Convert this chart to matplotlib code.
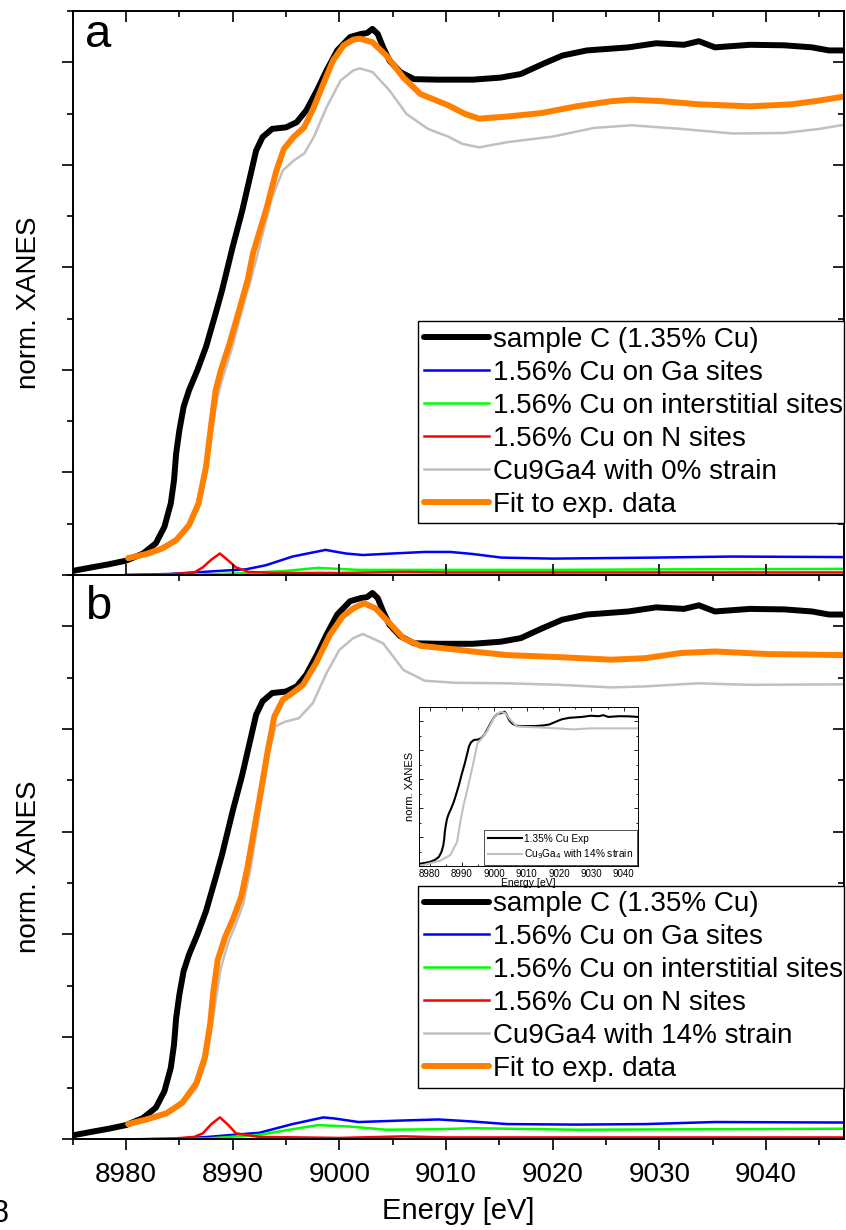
#! /usr/bin/env python3

# import libraries
import numpy as np
import matplotlib
matplotlib.use("Agg")
import matplotlib.pyplot as plt
from matplotlib.ticker import MultipleLocator


# set matplotlib parameters
plt.rcParams["font.family"] = ["Liberation Sans", "DejaVu Sans"]
plt.rcParams["axes.linewidth"] = 1.4
plt.rcParams["xtick.major.width"] = 1.2
plt.rcParams["ytick.major.width"] = 1.2
plt.rcParams["xtick.minor.width"] = 1.2
plt.rcParams["ytick.minor.width"] = 1.2


# experiment: sample C (1.35% Cu), same in both panels
e_exp = [8975.0, 8976.8, 8978.4, 8980.0, 8981.6, 8982.8, 8983.6, 8984.2, 8984.5, 8984.7,
         8985.0, 8985.4, 8985.9, 8986.7, 8987.5, 8988.4, 8989.0, 8990.0, 8990.9, 8991.7,
         8992.2, 8992.8, 8993.7, 8995.0, 8996.0, 8996.9, 8997.9, 8998.8, 8999.8, 9001.0,
         9002.0, 9002.6, 9003.1, 9003.6, 9004.1, 9004.7, 9005.7, 9007.0, 9009.3, 9012.5,
         9015.1, 9017.0, 9019.0, 9020.9, 9023.2, 9027.1, 9029.7, 9032.3, 9033.7, 9035.2,
         9038.5, 9041.7, 9044.3, 9045.9, 9047.3]
y_exp = [0.008, 0.015, 0.021, 0.028, 0.042, 0.062, 0.094, 0.14, 0.185, 0.237,
         0.282, 0.328, 0.36, 0.40, 0.445, 0.51, 0.555, 0.64, 0.711, 0.783,
         0.828, 0.854, 0.870, 0.873, 0.883, 0.906, 0.945, 0.984, 1.023, 1.049,
         1.055, 1.057, 1.065, 1.055, 1.029, 1.003, 0.981, 0.967, 0.966, 0.966,
         0.970, 0.977, 0.996, 1.013, 1.023, 1.029, 1.037, 1.034, 1.041, 1.029,
         1.034, 1.033, 1.029, 1.023, 1.023]

# panel a: fit and components (0% strain)
e_fit_a = [8980.2, 8981.9, 8983.4, 8984.7, 8985.9, 8986.8, 8987.5, 8988.0, 8988.4, 8988.9,
           8989.7, 8990.6, 8991.4, 8991.9, 8993.2, 8994.1, 8994.8, 8995.7, 8996.7, 8997.6,
           8998.5, 8999.4, 9000.4, 9001.3, 9001.9, 9003.1, 9004.4, 9006.0, 9007.6, 9010.2,
           9011.8, 9013.1, 9015.7, 9019.0, 9022.2, 9025.5, 9027.4, 9030.3, 9033.6, 9038.5,
           9042.4, 9044.9, 9047.3]
y_fit_a = [0.033, 0.041, 0.052, 0.068, 0.097, 0.14, 0.211, 0.296, 0.36, 0.40,
           0.451, 0.516, 0.575, 0.627, 0.717, 0.789, 0.831, 0.854, 0.873, 0.912,
           0.958, 1.003, 1.033, 1.044, 1.046, 1.039, 1.013, 0.97, 0.938, 0.916,
           0.899, 0.89, 0.894, 0.901, 0.914, 0.924, 0.927, 0.924, 0.918, 0.914,
           0.918, 0.925, 0.933]

e_cga_a = [8980.2, 8981.9, 8983.4, 8984.7, 8985.9, 8986.8, 8987.5, 8988.0, 8988.5, 8989.0,
           8989.9, 8991.2, 8991.7, 8992.5, 8993.7, 8994.7, 8995.7, 8996.7, 8997.6, 8998.8,
           9000.1, 9001.3, 9001.9, 9003.1, 9004.7, 9006.3, 9008.3, 9010.2, 9011.5, 9013.1,
           9015.7, 9020.0, 9023.9, 9027.4, 9032.0, 9036.9, 9041.7, 9045.0, 9047.3]
y_cga_a = [0.030, 0.038, 0.049, 0.064, 0.092, 0.13, 0.195, 0.27, 0.34, 0.38,
           0.44, 0.542, 0.575, 0.64, 0.737, 0.789, 0.808, 0.822, 0.854, 0.912,
           0.964, 0.984, 0.988, 0.981, 0.945, 0.899, 0.870, 0.855, 0.841, 0.834,
           0.844, 0.855, 0.872, 0.877, 0.870, 0.861, 0.862, 0.870, 0.878]

e_ga_a = [8980.0, 8984.0, 8987.2, 8988.7, 8991.2, 8993.1, 8995.6, 8998.7, 9000.6, 9002.2,
          9005.0, 9008.0, 9010.4, 9012.5, 9015.2, 9020.0, 9029.5, 9036.7, 9047.3]
y_ga_a = [0.0, 0.002, 0.006, 0.008, 0.011, 0.019, 0.036, 0.049, 0.042, 0.039,
          0.042, 0.045, 0.045, 0.041, 0.034, 0.032, 0.034, 0.036, 0.035]

e_int_a = [8980.0, 8987.0, 8990.3, 8995.0, 8998.0, 9001.8, 9010.0, 9020.0, 9030.0, 9047.3]
y_int_a = [0.0, 0.001, 0.003, 0.008, 0.014, 0.010, 0.010, 0.010, 0.011, 0.012]

e_n_a = [8980.0, 8984.0, 8986.4, 8987.2, 8988.0, 8988.8, 8989.6, 8990.3, 8991.5, 8994.0,
         9000.0, 9006.0, 9010.0, 9047.3]
y_n_a = [0.0, 0.001, 0.005, 0.015, 0.030, 0.042, 0.028, 0.015, 0.006, 0.004,
         0.004, 0.006, 0.005, 0.005]

# panel b: fit and components (14% strain)
e_fit_b = [8980.2, 8981.9, 8983.8, 8985.3, 8986.6, 8987.4, 8987.9, 8988.2, 8988.6, 8989.3,
           8990.0, 8990.8, 8991.4, 8992.5, 8993.3, 8993.9, 8994.7, 8995.6, 8996.6, 8997.8,
           8999.1, 9000.3, 9001.3, 9002.3, 9003.4, 9004.7, 9006.0, 9007.6, 9009.9, 9012.5,
           9015.7, 9020.6, 9025.5, 9028.7, 9032.0, 9035.2, 9040.1, 9047.3]
y_fit_b = [0.030, 0.039, 0.051, 0.072, 0.11, 0.161, 0.227, 0.291, 0.35, 0.395,
           0.428, 0.473, 0.532, 0.662, 0.759, 0.824, 0.857, 0.870, 0.886, 0.928,
           0.983, 1.019, 1.035, 1.045, 1.035, 1.006, 0.977, 0.962, 0.957, 0.951,
           0.944, 0.940, 0.935, 0.938, 0.948, 0.951, 0.946, 0.944]

e_cga_b = [8980.2, 8981.9, 8983.8, 8985.3, 8986.6, 8987.4, 8987.9, 8988.4, 8988.9, 8989.6,
           8990.3, 8991.0, 8991.7, 8992.6, 8993.4, 8994.0, 8994.9, 8996.2, 8997.5, 8998.8,
           9000.0, 9001.3, 9002.2, 9004.1, 9006.0, 9008.0, 9010.9, 9015.7, 9020.6, 9025.5,
           9028.7, 9033.6, 9038.5, 9047.3]
y_cga_b = [0.028, 0.036, 0.048, 0.068, 0.10, 0.145, 0.20, 0.27, 0.335, 0.385,
           0.42, 0.46, 0.53, 0.65, 0.753, 0.805, 0.814, 0.821, 0.85, 0.909,
           0.954, 0.977, 0.985, 0.967, 0.915, 0.894, 0.890, 0.889, 0.886, 0.881,
           0.883, 0.889, 0.886, 0.887]

e_ga_b = [8980.0, 8985.0, 8987.7, 8990.0, 8992.5, 8995.6, 8998.5, 8999.5, 9001.8, 9006.0,
          9009.3, 9012.5, 9015.7, 9022.2, 9028.7, 9035.2, 9047.3]
y_ga_b = [0.0, 0.002, 0.005, 0.009, 0.013, 0.030, 0.043, 0.041, 0.034, 0.037,
          0.039, 0.035, 0.030, 0.029, 0.030, 0.034, 0.033]

e_int_b = [8980.0, 8987.7, 8992.5, 8995.6, 8998.0, 9001.1, 9004.4, 9009.3, 9012.5, 9022.2,
           9035.2, 9047.3]
y_int_b = [0.0, 0.002, 0.009, 0.020, 0.028, 0.025, 0.019, 0.020, 0.022, 0.019,
           0.020, 0.021]

e_n_b = [8980.0, 8984.0, 8986.4, 8987.2, 8988.0, 8988.8, 8989.6, 8990.3, 8992.5, 9000.0,
         9006.0, 9010.0, 9047.3]
y_n_b = [0.0, 0.001, 0.005, 0.012, 0.030, 0.043, 0.028, 0.012, 0.005, 0.003,
         0.006, 0.004, 0.004]

# inset: Cu9Ga4 with 14% strain, own normalisation
e_ins = [8976.8, 8983.3, 8986.4, 8988.5, 8989.5, 8990.5, 8992.0, 8993.6, 8994.8, 8996.2,
         8997.7, 8999.8, 9001.8, 9003.4, 9004.9, 9007.0, 9014.2, 9019.3, 9024.5, 9029.6,
         9044.5]
y_ins = [0.0, 0.037, 0.076, 0.168, 0.306, 0.422, 0.56, 0.721, 0.849, 0.883,
         0.929, 1.021, 1.063, 1.056, 1.01, 0.963, 0.956, 0.95, 0.943, 0.95,
         0.95]

# legend labels
lbl_exp = "sample C (1.35% Cu)"
lbl_ga = "1.56% Cu on Ga sites"
lbl_int = "1.56% Cu on interstitial sites"
lbl_n = "1.56% Cu on N sites"
lbl_cga_a = "Cu9Ga4 with 0% strain"
lbl_cga_b = "Cu9Ga4 with 14% strain"
lbl_fit = "Fit to exp. data"


# setup figure
fig = plt.figure(figsize=(8.46, 12.30), dpi=100)
ax_a = fig.add_axes([0.0859, 0.5325, 0.9117, 0.4586])
ax_b = fig.add_axes([0.0859, 0.0736, 0.9117, 0.4589])

panels = [
    (ax_a, "a", e_fit_a, y_fit_a, e_cga_a, y_cga_a, lbl_cga_a, e_ga_a, y_ga_a, e_int_a, y_int_a, e_n_a, y_n_a, 0.936),
    (ax_b, "b", e_fit_b, y_fit_b, e_cga_b, y_cga_b, lbl_cga_b, e_ga_b, y_ga_b, e_int_b, y_int_b, e_n_b, y_n_b, 0.922),
]

for ax, tag, ef, yf, ec, yc, lc, eg, yg, ei, yi, en, yn, ty in panels:
    ax.plot(e_exp, y_exp, c="#000000", lw=4.3, label=lbl_exp, solid_capstyle="round")
    ax.plot(eg, yg, c="#0000ff", lw=1.8, label=lbl_ga)
    ax.plot(ei, yi, c="#00ff00", lw=1.8, label=lbl_int)
    ax.plot(en, yn, c="#ff0000", lw=1.8, label=lbl_n)
    ax.plot(ec, yc, c="#c0c0c0", lw=1.8, label=lc)
    ax.plot(ef, yf, c="#ff8000", lw=4.3, label=lbl_fit, solid_capstyle="round")

    ax.set_xlim(8975, 9047.3)
    ax.set_ylim(0, 1.1)
    ax.xaxis.set_major_locator(MultipleLocator(10))
    ax.xaxis.set_minor_locator(MultipleLocator(5))
    ax.yaxis.set_major_locator(MultipleLocator(0.2))
    ax.yaxis.set_minor_locator(MultipleLocator(0.1))
    ax.tick_params(which="both", left=True, bottom=True, top=True, right=True,
                   direction="out", labelleft=False)
    ax.tick_params(which="major", length=8)
    ax.tick_params(which="minor", length=4)
    # top and right ticks point inward
    for t in ax.xaxis.get_major_ticks() + ax.xaxis.get_minor_ticks():
        t.tick2line.set_marker(3)
    for t in ax.yaxis.get_major_ticks() + ax.yaxis.get_minor_ticks():
        t.tick2line.set_marker(0)

    ax.set_ylabel("norm. XANES", fontsize=20)
    ax.yaxis.label.set_va("center")
    ax.yaxis.set_label_coords(-0.057, 0.483)

    ax.text(0.016, ty, tag, transform=ax.transAxes, fontsize=34, va="baseline")

    leg = ax.legend(loc="lower left", bbox_to_anchor=(0.448, 0.092, 0.552, 0.357), mode="expand",
                    prop={"size": 20}, handlelength=2.35, handletextpad=0.15,
                    labelspacing=0.25, borderpad=0.2, borderaxespad=0,
                    fancybox=False, framealpha=1, edgecolor="#000000")
    leg.get_frame().set_linewidth(1.0)

ax_a.tick_params(axis="x", labelbottom=False)
ax_b.tick_params(axis="x", labelsize=20, pad=8)
ax_b.set_xlabel("Energy [eV]", fontsize=21)
ax_b.xaxis.label.set_va("center")
ax_b.xaxis.set_label_coords(0.5, -0.126)


# inset in panel b
ax_in = fig.add_axes([0.4956, 0.2959, 0.2589, 0.1296])
ax_in.plot(e_exp, y_exp, c="#000000", lw=1.5, label="1.35% Cu Exp")
ax_in.plot(e_ins, y_ins, c="#c0c0c0", lw=1.5, label="Cu$_9$Ga$_4$ with 14% strain")
ax_in.set_xlim(8976.8, 9044.5)
ax_in.set_ylim(0, 1.1)
ax_in.xaxis.set_major_locator(MultipleLocator(10))
ax_in.xaxis.set_minor_locator(MultipleLocator(5))
ax_in.yaxis.set_major_locator(MultipleLocator(0.2))
ax_in.yaxis.set_minor_locator(MultipleLocator(0.1))
ax_in.tick_params(which="both", direction="in", top=True, right=True, labelleft=False, width=0.6)
ax_in.tick_params(which="major", length=3, labelsize=7, pad=2)
ax_in.tick_params(which="minor", length=1.5)
for s in ax_in.spines.values():
    s.set_linewidth(0.7)
ax_in.set_xlabel("Energy [eV]", fontsize=7.5, labelpad=-0.5)
ax_in.set_ylabel("norm. XANES", fontsize=8, labelpad=3)
leg_in = ax_in.legend(loc="lower right", prop={"size": 7.3},
                      handlelength=3.4, handletextpad=0.2, labelspacing=0.35, borderpad=0.35,
                      borderaxespad=0.15, fancybox=False, framealpha=1, edgecolor="#333333")
leg_in.get_frame().set_linewidth(0.6)


# clipped letter at bottom left
fig.text(0.0, 1 - 1214 / 1230, "8", ha="center", va="center", fontsize=22)

fig.savefig("out.png", dpi=100)
